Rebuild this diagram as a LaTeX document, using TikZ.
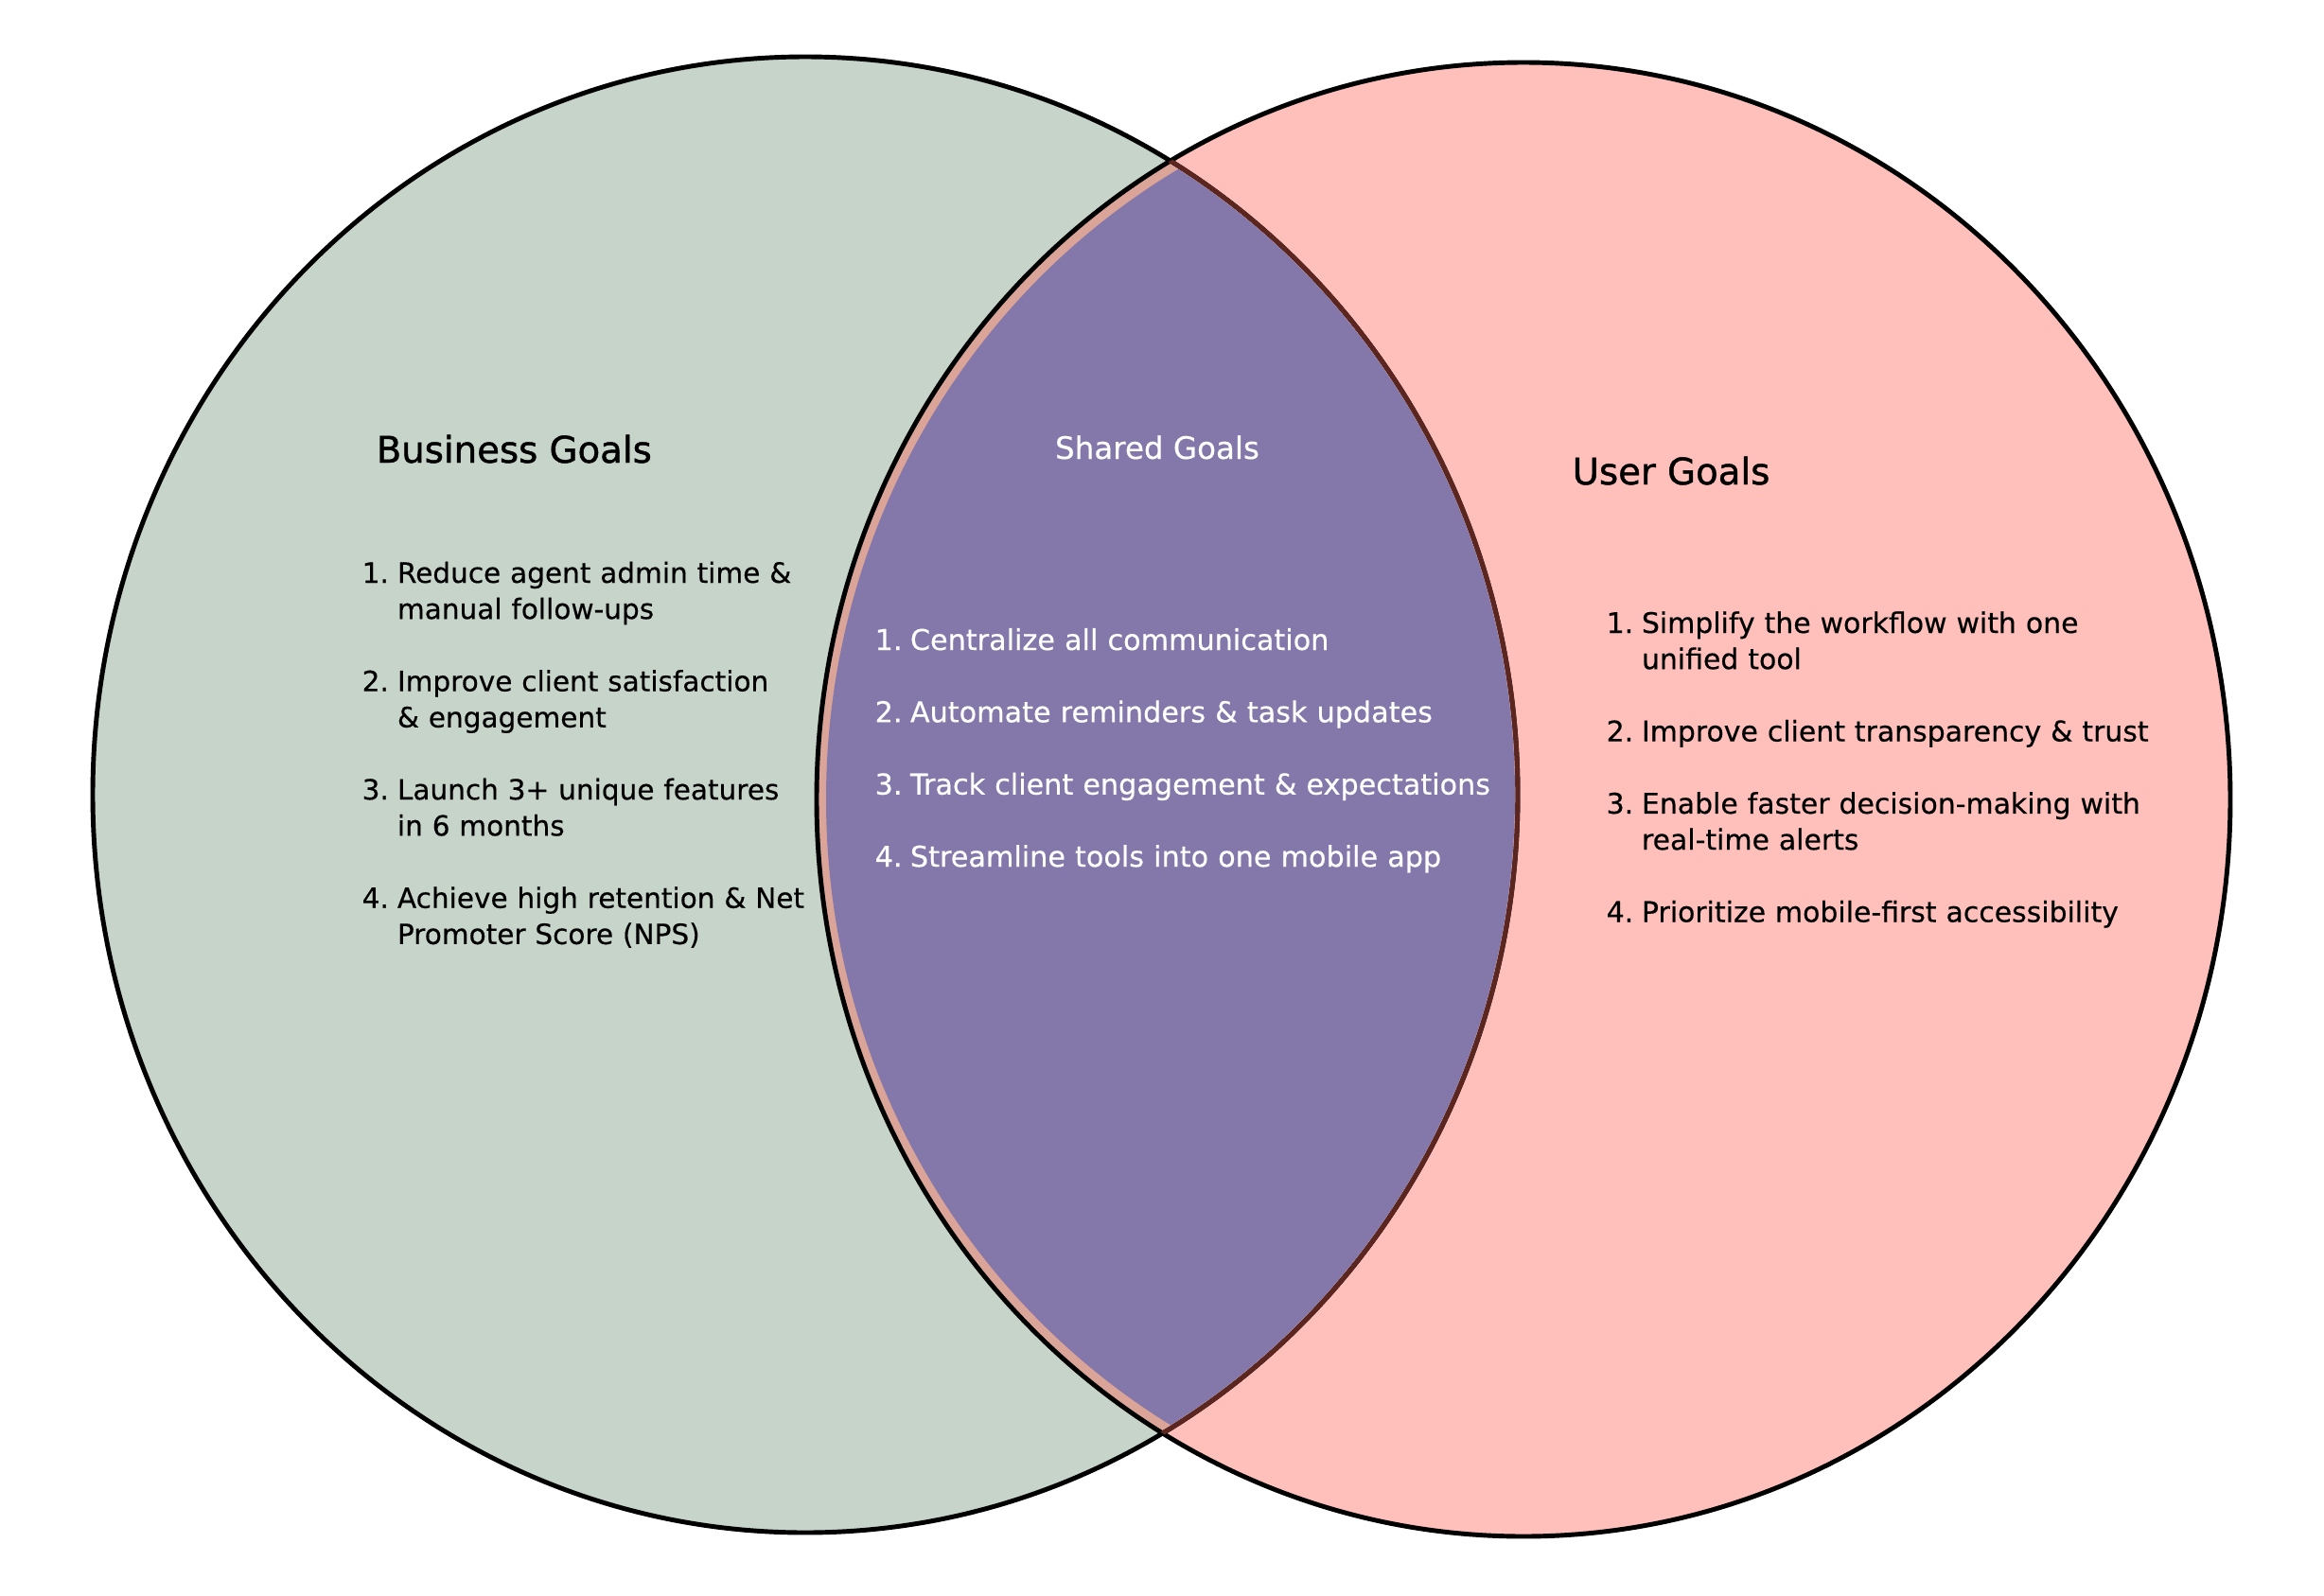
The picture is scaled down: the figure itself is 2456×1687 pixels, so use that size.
\documentclass[tikz,border=0pt]{standalone}
\usepackage{fontspec}
\setmainfont{DejaVu Sans}[FakeBold=0.4]
\newfontfamily\headfont{DejaVu Sans}[FakeBold=1.2]
\definecolor{sage}{RGB}{198,212,201}
\definecolor{blush}{RGB}{255,191,186}
\definecolor{lavender}{RGB}{132,120,171}
\definecolor{salmon}{RGB}{219,164,152}
\definecolor{rust}{RGB}{92,38,32}
\newcommand{\goal}[2]{\noindent\makebox[10.6pt][l]{#1.}%
        \parbox[t]{7cm}{#2\par\xdef\goaldepth{\the\prevdepth}}\par\prevdepth=\goaldepth}

\begin{document}
\begin{tikzpicture}[x=0.01cm,y=-0.01cm,
        title/.style={anchor=base west,inner sep=0pt,font=\headfont\fontsize{11}{13}\selectfont},
        goals/.style={anchor=base west,inner sep=0pt,text width=8cm,align=left,
                font=\fontsize{#1}{10.86}\selectfont}]
        \useasboundingbox (0,0) rectangle (2456,1687);
        \fill[sage] (851,840) ellipse [x radius=753, y radius=780];
        \fill[blush] (1610,845) ellipse [x radius=747, y radius=779];
        \begin{scope}
                \clip (851,840) ellipse [x radius=750, y radius=777];
                \fill[salmon] (1610,845) ellipse [x radius=747, y radius=779];
                \fill[lavender] (1620,845) ellipse [x radius=747, y radius=770];
        \end{scope}
        \draw[line width=1.4pt] (851,840) ellipse [x radius=753, y radius=780];
        \draw[line width=1.4pt] (1610,845) ellipse [x radius=747, y radius=779];
        \begin{scope}
                \clip (1610,845) ellipse [x radius=747, y radius=779];
                \draw[rust, line width=1.4pt] (851,840) ellipse [x radius=753, y radius=780];
        \end{scope}

        \node[title] (busTitle) at (397,489) {Business Goals};
        \node[title, anchor=base, white, font=\fontsize{9.25}{11}\selectfont] (sharedTitle) at (1223,485) {Shared Goals};
        \node[title] (userTitle) at (1661,512) {User Goals};

        \node[goals=8.4] (busList) at (382,616) {\setlength{\parskip}{10.86pt}%
                \goal{1}{Reduce agent admin time \&\\manual follow-ups}
                \goal{2}{Improve client satisfaction\\\& engagement}
                \goal{3}{Launch 3+ unique features\\in 6 months}
                \goal{4}{Achieve high retention \& Net\\Promoter Score (NPS)}};
        \node[goals=8.6, white] (sharedList) at (924,687) {\setlength{\parskip}{10.86pt}%
                \goal{1}{Centralize all communication}
                \goal{2}{Automate reminders \& task updates}
                \goal{3}{Track client engagement \& expectations}
                \goal{4}{Streamline tools into one mobile app}};
        \node[goals=8.5] (userList) at (1697,669) {\setlength{\parskip}{10.86pt}%
                \goal{1}{Simplify the workflow with one\\unified tool}
                \goal{2}{Improve client transparency \& trust}
                \goal{3}{Enable faster decision-making with\\real-time alerts}
                \goal{4}{Prioritize mobile-first accessibility}};
\end{tikzpicture}
\end{document}
